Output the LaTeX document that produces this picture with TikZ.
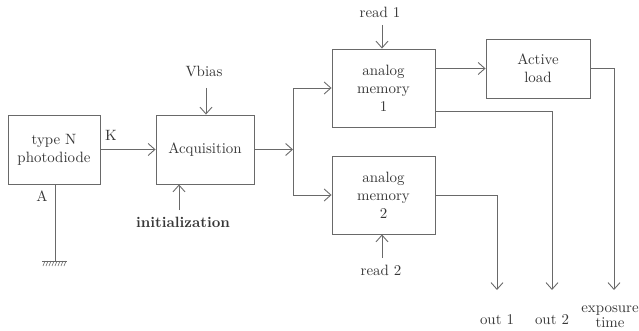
\documentclass[tikz,border=0pt]{standalone}
\usetikzlibrary{arrows.meta}
\newlength\pxu
\setlength\pxu{0.67pt}
\definecolor{ln}{RGB}{105,105,105}
\definecolor{tx}{RGB}{55,55,55}
\tikzset{
  box/.style={draw=ln, line width=0.6pt, fill=white, align=center, text=tx, inner sep=2pt},
  lbl/.style={text=tx, align=center, inner sep=1pt},
  arr/.style={draw=ln, line width=0.6pt, -{Straight Barb[length=4.5pt,width=8pt]}},
  wire/.style={draw=ln, line width=0.6pt},
}
\begin{document}
\begin{tikzpicture}[x=0.67pt, y=-0.67pt]
\useasboundingbox (0,0) rectangle (639,331);
% boxes
\node[box, minimum width=92\pxu, minimum height=69\pxu] (pd) at (54,149.5) {type N\\photodiode};
\node[box, minimum width=98\pxu, minimum height=69\pxu] (acq) at (205,149.5) {Acquisition};
\node[box, minimum width=103\pxu, minimum height=78\pxu] (m1) at (383.5,88) {analog\\memory\\1};
\node[box, minimum width=103\pxu, minimum height=78\pxu] (m2) at (383.5,195) {analog\\memory\\2};
\node[box, minimum width=104\pxu, minimum height=59\pxu] (al) at (538,68.5) {Active\\load};
% labels
\node[lbl] (vb) at (204,71) {Vbias};
\node[lbl, font=\bfseries] (ini) at (183,222) {initialization};
\node[lbl] (r1) at (380,12) {read 1};
\node[lbl] (r2) at (381,270) {read 2};
\node[lbl] (k) at (111,135) {K};
\node[lbl] (a) at (42,196) {A};
\node[lbl] (o1) at (497,320) {out 1};
\node[lbl] (o2) at (552,320) {out 2};
\node[lbl] (o3) at (610,317) {exposure\\[-2pt]time};
% free ends
\coordinate (e1) at (497,290);
\coordinate (e2) at (552,290);
\coordinate (e3) at (614,290);
\coordinate (sp) at (293,149.5);
\coordinate (gnd) at (55,261);
% connectors
\draw[arr] (pd.east) -- (acq.west);
\draw[arr] (206,88) -- (acq.north -| 206,0);
\draw[arr] (179,210) -- (acq.south -| 179,0);
\draw[arr] (acq.east) -- (sp);
\draw[arr] (sp) |- (m1.west);
\draw[arr] (sp) |- (m2.west);
\draw[arr] (382,25) -- (m1.north -| 382,0);
\draw[arr] (382,258) -- (m2.south -| 382,0);
\draw[arr] (m1.east |- al.west) -- (al.west);
\draw[arr] ([yshift=-23\pxu]m1.east) -| (e2);
\draw[arr] (m2.east) -| (e1);
\draw[arr] (al.east) -| (e3);
% ground
\draw[wire] (pd.south -| gnd) -- (gnd);
\draw[wire] (42,261) -- (67,261);
\foreach \xx in {45,48,...,67} \draw[ln, line width=0.4pt] (\xx,261) -- (\xx-2,266);
\end{tikzpicture}
\end{document}
